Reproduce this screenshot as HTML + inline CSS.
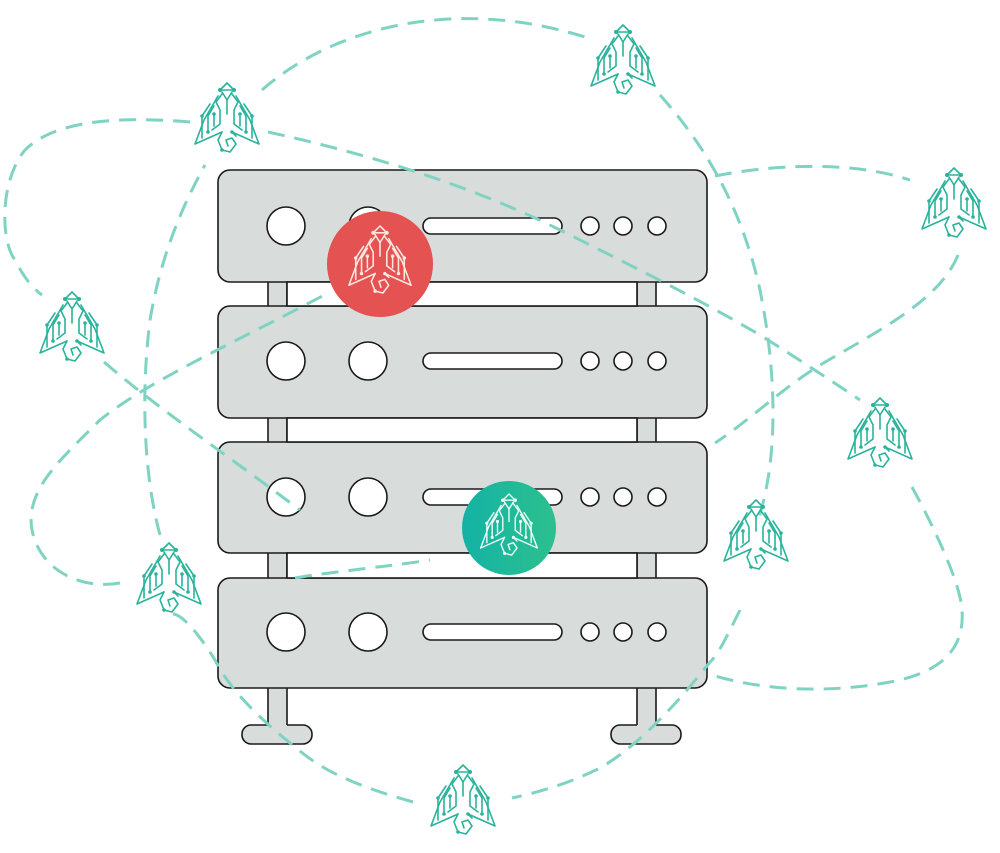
<!DOCTYPE html>
<html><head><meta charset="utf-8"><style>
html,body{margin:0;padding:0;background:#fff;}
svg{display:block;}
</style></head><body>
<svg width="1000" height="853" viewBox="0 0 1000 853" xmlns="http://www.w3.org/2000/svg">
<defs>
<symbol id="bug" viewBox="0 0 70 76">
<g fill="none" stroke-width="1.6" stroke-linejoin="round" stroke-linecap="round">
<path d="M28,10 L35,3 L42,10 Z"/>
<path d="M30,12 L35,20 L40,12"/>
<path d="M35,20 L35,34"/>
<path d="M30,14 L24,22 L28,30 L28,44 L20,50"/>
<path d="M40,14 L46,22 L42,30 L42,44 L50,50"/>
<path d="M26,16 L12,40 L3,64 L30,52"/>
<path d="M44,16 L58,40 L67,64 L40,52"/>
<path d="M22,26 L16,36 L16,52"/>
<path d="M48,26 L54,36 L54,52"/>
<path d="M18,24 L10,36 L10,58"/>
<path d="M52,24 L60,36 L60,58"/>
<path d="M22,34 L22,46"/>
<path d="M48,34 L48,46"/>
<path d="M30,52 L26,60 L30,70 L38,72 L44,64 L40,58 L34,60 L36,66"/>
<path d="M40,52 L44,56"/>
</g>
<g stroke="none">
<circle cx="28" cy="10" r="2"/><circle cx="42" cy="10" r="2"/>
<circle cx="16" cy="52" r="1.8"/><circle cx="54" cy="52" r="1.8"/>
<circle cx="10" cy="36" r="1.8"/><circle cx="60" cy="36" r="1.8"/>
<circle cx="22" cy="34" r="1.8"/><circle cx="48" cy="34" r="1.8"/>
<circle cx="40" cy="52" r="1.8"/><circle cx="30" cy="70" r="1.8"/>
</g>
</symbol>
<linearGradient id="gg" x1="0" y1="0" x2="1" y2="0">
<stop offset="0" stop-color="#14b2a5"/><stop offset="1" stop-color="#2cc08e"/>
</linearGradient>
</defs>

<!-- server -->
<g fill="#d8dcdb" stroke="#1a1a1a" stroke-width="1.6">
<rect x="268" y="270" width="19" height="50" stroke="none"/>
<rect x="637" y="270" width="19" height="50" stroke="none"/>
<rect x="268" y="405" width="19" height="50" stroke="none"/>
<rect x="637" y="405" width="19" height="50" stroke="none"/>
<rect x="268" y="540" width="19" height="50" stroke="none"/>
<rect x="637" y="540" width="19" height="50" stroke="none"/>
<path d="M268,282 V306 M287,282 V306 M637,282 V306 M656,282 V306" fill="none"/>
<path d="M268,418 V442 M287,418 V442 M637,418 V442 M656,418 V442" fill="none"/>
<path d="M268,553 V578 M287,553 V578 M637,553 V578 M656,553 V578" fill="none"/>
<rect x="242" y="725" width="70" height="19" rx="9"/>
<rect x="611" y="725" width="70" height="19" rx="9"/>
<rect x="268" y="680" width="19" height="47" stroke="none"/>
<rect x="637" y="680" width="19" height="47" stroke="none"/>
<path d="M268,688 V725 M287,688 V725 M637,688 V725 M656,688 V725" fill="none"/>
<rect x="218" y="170" width="489" height="112" rx="12"/>
<rect x="218" y="306" width="489" height="112" rx="12"/>
<rect x="218" y="442" width="489" height="111" rx="12"/>
<rect x="218" y="578" width="489" height="110" rx="12"/>
</g>
<g fill="#fff" stroke="#1a1a1a" stroke-width="1.6">
<rect x="287" y="282" width="350" height="24"/>
<rect x="287" y="418" width="350" height="24"/>
<rect x="287" y="553" width="350" height="25"/>
<g id="pn">
<circle cx="286" cy="226" r="19"/><circle cx="368" cy="226" r="19"/>
<rect x="423" y="218" width="139" height="16" rx="8"/>
<circle cx="590" cy="226" r="9"/><circle cx="623" cy="226" r="9"/><circle cx="657" cy="226" r="9"/>
</g>
<use href="#pn" y="135"/><use href="#pn" y="271"/><use href="#pn" y="406"/>
</g>

<!-- orbits -->
<g fill="none" stroke="#7fd3c3" stroke-width="3" stroke-dasharray="17 10" stroke-linecap="butt">
<path d="M262,90 C330,30 450,-5 585,37"/>
<path d="M660,95 C700,140 740,200 760,290 C780,390 775,470 758,520"/>
<path d="M740,610 C725,640 718,655 710,662 C680,700 640,745 600,768 C570,783 540,792 512,798"/>
<path d="M413,802 C370,790 330,775 305,755 C260,720 230,690 215,660 C190,620 175,610 168,615"/>
<path d="M160,535 C145,480 140,400 150,320 C160,260 180,210 205,165"/>
<path d="M190,122 C140,118 60,115 25,150 C0,180 0,240 15,260 C25,280 35,290 42,295"/>
<path d="M104,362 C160,410 220,450 300,510"/>
<path d="M120,583 C80,590 40,570 32,530 C25,490 60,460 100,420 C150,380 230,345 330,292"/>
<path d="M295,578 C330,572 400,565 430,560"/>
<path d="M268,132 C350,150 460,180 560,230 C650,275 700,300 760,335 C800,360 830,380 860,400"/>
<path d="M912,487 C930,520 960,580 962,610 C965,650 940,670 900,680 C830,695 760,690 712,675"/>
<path d="M715,176 C770,165 850,160 910,180"/>
<path d="M958,255 C940,300 880,330 820,365 C780,390 750,420 715,443"/>
</g>

<!-- bugs -->
<g fill="#29b39a" stroke="#29b39a">
<use href="#bug" x="192" y="80" width="70" height="76"/>
<use href="#bug" x="588" y="22" width="70" height="76"/>
<use href="#bug" x="919" y="165" width="70" height="76"/>
<use href="#bug" x="37" y="289" width="70" height="76"/>
<use href="#bug" x="845" y="395" width="70" height="76"/>
<use href="#bug" x="134" y="540" width="70" height="76"/>
<use href="#bug" x="721" y="497" width="70" height="76"/>
<use href="#bug" x="428" y="762" width="70" height="76"/>
</g>

<circle cx="380" cy="264" r="53" fill="#e45252"/>
<g fill="#fde8e0" stroke="#fde8e0"><use href="#bug" x="346" y="222" width="68" height="76"/></g>
<circle cx="509" cy="528" r="47" fill="url(#gg)"/>
<g fill="#e8fbf5" stroke="#e8fbf5"><use href="#bug" x="478" y="490" width="62" height="70"/></g>
</svg>
</body></html>
